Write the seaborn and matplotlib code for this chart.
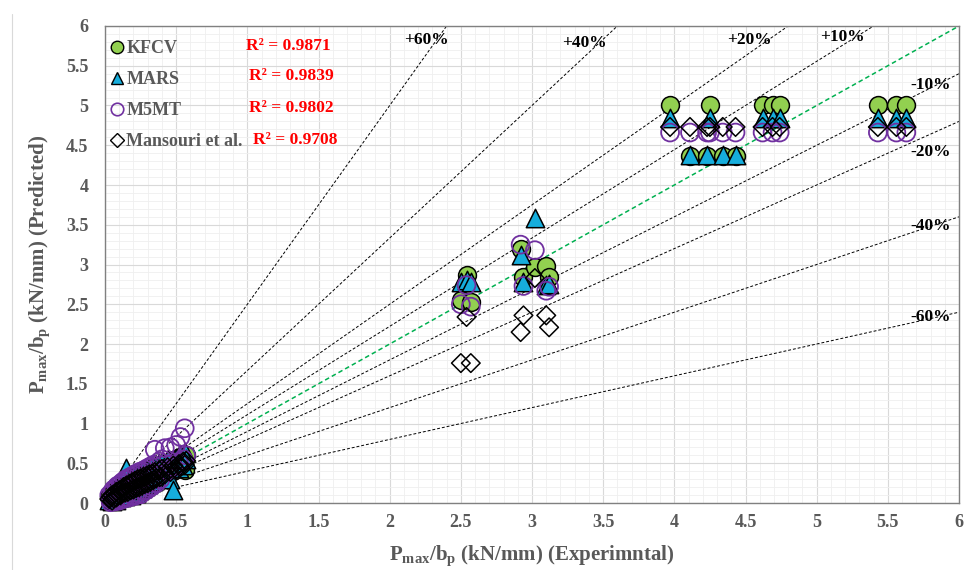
import numpy as np
import pandas as pd
import matplotlib
matplotlib.use("Agg")
import matplotlib.pyplot as plt
from matplotlib.lines import Line2D
from matplotlib.ticker import MultipleLocator, FuncFormatter
import seaborn as sns

# ---------------------------------------------------------------
# Data
# ---------------------------------------------------------------
x_low = [0.03, 0.04, 0.05, 0.05, 0.06, 0.07, 0.08, 0.08, 0.09, 0.10,
         0.11, 0.12, 0.12, 0.13, 0.14, 0.15, 0.16, 0.17, 0.18, 0.19,
         0.20, 0.21, 0.22, 0.23, 0.24, 0.25, 0.26, 0.27, 0.28, 0.29,
         0.30, 0.31, 0.32, 0.33, 0.34, 0.35, 0.36, 0.38, 0.39, 0.40,
         0.42, 0.44, 0.46, 0.48, 0.50, 0.52, 0.53, 0.55, 0.56, 0.57]
x_mid = [2.50, 2.54, 2.57, 2.92, 2.94, 3.02, 3.10, 3.12]
x_high = [3.97, 4.11, 4.23, 4.25, 4.34, 4.43, 4.62, 4.69, 4.74, 5.43, 5.56, 5.63]

kfcv_low = [0.08, 0.02, 0.12, 0.04, 0.15, 0.03, 0.14, 0.06, 0.18, 0.05,
            0.20, 0.08, 0.22, 0.06, 0.25, 0.10, 0.27, 0.09, 0.28, 0.12,
            0.30, 0.11, 0.33, 0.15, 0.34, 0.14, 0.36, 0.18, 0.38, 0.20,
            0.40, 0.22, 0.41, 0.25, 0.43, 0.27, 0.45, 0.30, 0.47, 0.33,
            0.50, 0.36, 0.52, 0.40, 0.55, 0.45, 0.58, 0.50, 0.42, 0.60]
kfcv_mid = [2.55, 2.87, 2.53, 3.20, 2.84, 2.97, 2.98, 2.84]
kfcv_high = [5.00, 4.37, 4.37, 5.00, 4.37, 4.37, 5.00, 5.00, 5.00, 5.00, 5.00, 5.00]

mars_low = [0.04, 0.10, 0.02, 0.13, 0.05, 0.16, 0.04, 0.19, 0.08, 0.21,
            0.07, 0.24, 0.10, 0.27, 0.09, 0.44, 0.12, 0.30, 0.10, 0.32,
            0.14, 0.35, 0.13, 0.37, 0.17, 0.39, 0.19, 0.41, 0.21, 0.42,
            0.24, 0.44, 0.26, 0.46, 0.28, 0.47, 0.31, 0.50, 0.33, 0.52,
            0.36, 0.55, 0.30, 0.16, 0.57, 0.44, 0.62, 0.48, 0.64, 0.55]
mars_mid = [2.78, 2.80, 2.78, 3.12, 2.78, 3.58, 2.74, 2.76]
mars_high = [4.84, 4.38, 4.38, 4.84, 4.38, 4.38, 4.84, 4.84, 4.84, 4.84, 4.84, 4.84]

m5mt_low = [0.10, 0.01, 0.14, 0.03, 0.17, 0.02, 0.20, 0.05, 0.22, 0.03,
            0.24, 0.06, 0.26, 0.05, 0.29, 0.08, 0.31, 0.07, 0.33, 0.10,
            0.35, 0.09, 0.37, 0.12, 0.39, 0.11, 0.40, 0.15, 0.42, 0.16,
            0.44, 0.19, 0.46, 0.21, 0.48, 0.67, 0.25, 0.52, 0.30, 0.55,
            0.69, 0.40, 0.70, 0.45, 0.73, 0.50, 0.83, 0.55, 0.94, 0.60]
m5mt_mid = [2.50, 2.74, 2.47, 3.25, 2.73, 3.18, 2.67, 2.72]
m5mt_high = [4.66, 4.66, 4.66, 4.66, 4.66, 4.66, 4.66, 4.66, 4.66, 4.66, 4.66, 4.66]

mansouri_low = [0.05, 0.08, 0.03, 0.10, 0.06, 0.12, 0.07, 0.14, 0.09, 0.16,
                0.10, 0.18, 0.12, 0.20, 0.13, 0.22, 0.14, 0.24, 0.16, 0.26,
                0.17, 0.28, 0.19, 0.30, 0.20, 0.31, 0.22, 0.33, 0.24, 0.34,
                0.25, 0.36, 0.27, 0.37, 0.29, 0.39, 0.31, 0.41, 0.33, 0.43,
                0.36, 0.45, 0.39, 0.47, 0.42, 0.49, 0.45, 0.52, 0.48, 0.53]
mansouri_mid = [1.76, 2.34, 1.76, 2.15, 2.36, 2.83, 2.36, 2.21]
mansouri_high = [4.73, 4.73, 4.73, 4.73, 4.73, 4.73, 4.73, 4.73, 4.73, 4.73, 4.73, 4.73]

model_names = ["KFCV", "MARS", "M5MT", "Mansouri et al."]
r2_labels = ["R\u00b2 = 0.9871", "R\u00b2 = 0.9839", "R\u00b2 = 0.9802", "R\u00b2 = 0.9708"]
error_pcts = [60, 40, 20, 10, -10, -20, -40, -60]

experimental = x_low + x_mid + x_high
predictions = {
    "KFCV": kfcv_low + kfcv_mid + kfcv_high,
    "MARS": mars_low + mars_mid + mars_high,
    "M5MT": m5mt_low + m5mt_mid + m5mt_high,
    "Mansouri et al.": mansouri_low + mansouri_mid + mansouri_high,
}

df = pd.concat(
    [pd.DataFrame({"exp": experimental, "pred": predictions[m], "model": m}) for m in model_names],
    ignore_index=True,
)

# ---------------------------------------------------------------
# Style
# ---------------------------------------------------------------
sns.set_theme(style="white")
plt.rcParams["font.family"] = ["Liberation Serif", "DejaVu Serif"]
plt.rcParams["font.weight"] = "bold"
plt.rcParams["mathtext.fontset"] = "custom"
plt.rcParams["mathtext.rm"] = "Liberation Serif:bold"
plt.rcParams["mathtext.bf"] = "Liberation Serif:bold"

GRAY = "#595959"
marker_styles = {
    "KFCV": dict(marker="o", s=165, color="#92D050", edgecolor="black", linewidth=1.1),
    "MARS": dict(marker="^", s=175, color="#16ADDC", edgecolor="black", linewidth=1.1),
    "M5MT": dict(marker="o", s=165, facecolor="none", edgecolor="#7030A0", linewidth=1.3),
    "Mansouri et al.": dict(marker="D", s=90, facecolor="none", edgecolor="black", linewidth=1.1),
}

fig, ax = plt.subplots(figsize=(9.68, 5.70), dpi=100)
fig.subplots_adjust(left=0.1085, right=0.9907, bottom=0.1175, top=0.9544)

# error lines y = x/(1-p) for over-prediction, y = (1-p)x for under-prediction
xs = np.array([0.0, 6.0])
for p in error_pcts:
    slope = 1 / (1 - p / 100) if p > 0 else 1 + p / 100
    ax.plot(xs, slope * xs, ls=(0, (3, 2)), color="black", lw=0.7, zorder=1.5)
ax.plot(xs, xs, ls=(0, (3, 2)), color="#00B050", lw=1.1, zorder=1.5)

for i, m in enumerate(model_names):
    sub = df[df["model"] == m]
    sns.scatterplot(data=sub, x="exp", y="pred", ax=ax, zorder=3 + i,
                    legend=False, clip_on=False, **marker_styles[m])

# line labels
label_pos = {60: (2.26, 5.82), 40: (3.37, 5.79), 20: (4.53, 5.82), 10: (5.18, 5.86),
             -10: (5.80, 5.26), -20: (5.80, 4.42), -40: (5.80, 3.48), -60: (5.80, 2.34)}
for p in error_pcts:
    tx, ty = label_pos[p]
    ax.text(tx, ty, f"{p:+d}%", fontsize=12.5, fontweight="bold", color="black",
            ha="center", va="center", zorder=10)

# R^2 annotations
r2_pos = [(0.99, 5.75), (1.01, 5.37), (1.01, 4.97), (1.04, 4.56)]
for (tx, ty), txt in zip(r2_pos, r2_labels):
    ax.text(tx, ty, txt, fontsize=12.5, fontweight="bold", color="red",
            ha="left", va="center", zorder=10)

# legend
handles = [
    Line2D([], [], ls="none", marker="o", ms=9, mfc="#92D050", mec="black", mew=1.0),
    Line2D([], [], ls="none", marker="^", ms=9, mfc="#16ADDC", mec="black", mew=1.0),
    Line2D([], [], ls="none", marker="o", ms=9, mfc="none", mec="#7030A0", mew=1.2),
    Line2D([], [], ls="none", marker="D", ms=7, mfc="none", mec="black", mew=1.0),
]
leg = ax.legend(handles, model_names, loc="upper left", bbox_to_anchor=(-0.014, 1.005),
                frameon=False, handlelength=0.8, handletextpad=0.15, labelspacing=0.78,
                prop=dict(family="Liberation Serif", weight="bold", size=13))
for t in leg.get_texts():
    t.set_color(GRAY)

# axes
ax.set_xlim(0, 6)
ax.set_ylim(0, 6)
ax.xaxis.set_major_locator(MultipleLocator(0.5))
ax.yaxis.set_major_locator(MultipleLocator(0.5))
ax.xaxis.set_minor_locator(MultipleLocator(0.1))
ax.yaxis.set_minor_locator(MultipleLocator(0.1))
fmt = FuncFormatter(lambda v, _: f"{v:g}")
ax.xaxis.set_major_formatter(fmt)
ax.yaxis.set_major_formatter(fmt)
ax.grid(which="major", color="#D9D9D9", lw=0.8)
ax.grid(which="minor", color="#EFEFEF", lw=0.6)
ax.set_axisbelow(True)
ax.tick_params(which="both", length=0, labelsize=13, labelcolor=GRAY)
ax.tick_params(axis="x", pad=8)
ax.tick_params(axis="y", pad=12)
for lab in ax.get_xticklabels() + ax.get_yticklabels():
    lab.set_fontweight("bold")
for sp in ax.spines.values():
    sp.set_color("#808080")
    sp.set_linewidth(1.0)

ax.set_xlabel(r"P$_{\rm max}$/b$_{\rm p}$ (kN/mm) (Experimntal)", fontsize=15,
              fontweight="bold", color=GRAY, labelpad=9)
ax.set_ylabel(r"P$_{\rm max}$/b$_{\rm p}$ (kN/mm) (Predicted)", fontsize=15,
              fontweight="bold", color=GRAY, labelpad=9)

# faint chart-area border at the left
fig.add_artist(Line2D([12 / 968, 12 / 968], [0, 1 - 14 / 570], color="#D9D9D9", lw=0.8))

fig.savefig("out.png", dpi=100)
